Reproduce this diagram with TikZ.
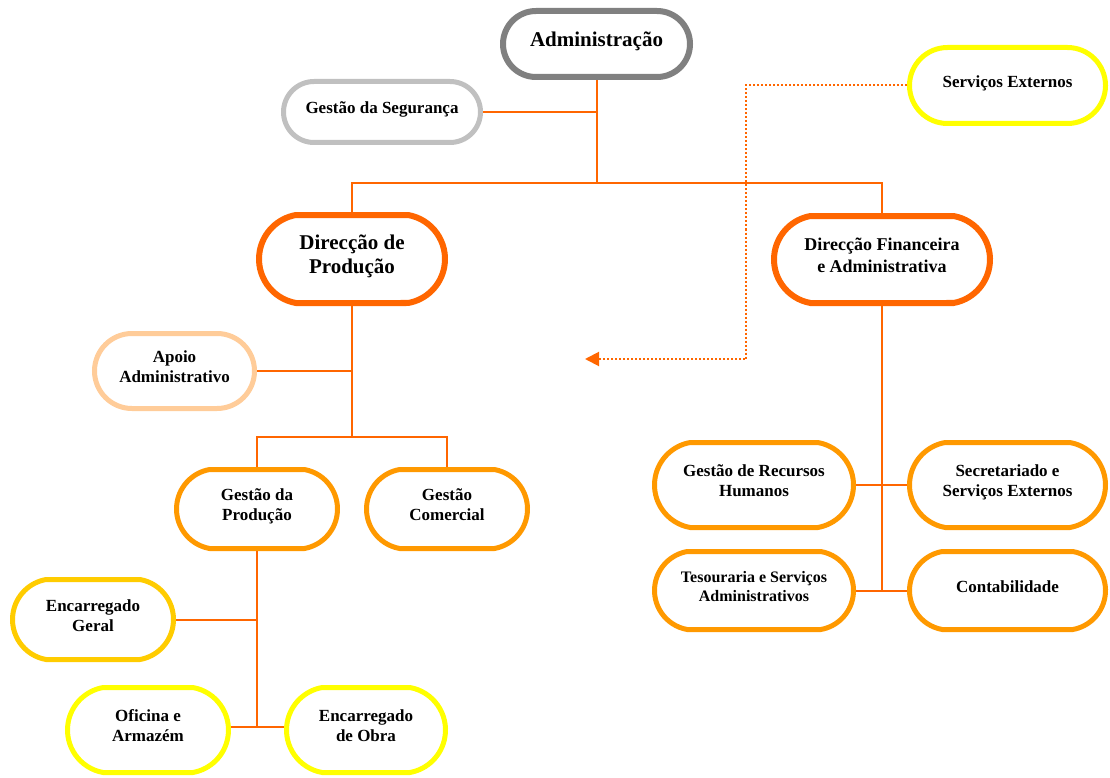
\documentclass[tikz,border=0pt]{standalone}
\usepackage{fontspec}
\setmainfont{Liberation Serif}
\usetikzlibrary{arrows.meta,shapes.misc}
\definecolor{corange}{HTML}{FF6600}
\definecolor{cmid}{HTML}{FF9900}
\definecolor{cgold}{HTML}{FFCC00}
\definecolor{cyel}{HTML}{FFFF00}
\definecolor{cpeach}{HTML}{FFCC99}
\definecolor{cdgray}{HTML}{808080}
\definecolor{clgray}{HTML}{C0C0C0}
\newcommand\lowstrut{\rule[-.47em]{0pt}{.47em}}
\begin{document}
\begin{tikzpicture}[x=1pt,y=-1pt,
  orgbox/.style={rounded rectangle, rounded rectangle arc length=180, draw, fill=white, line width=5pt,
    align=center, inner sep=0pt, font=\bfseries\fontsize{17}{20}\selectfont},
  tallbox/.style={rounded rectangle arc length=160},
  bigbox/.style={orgbox, tallbox, line width=6pt, draw=corange},
  midbox/.style={orgbox, draw=cmid},
  conn/.style={draw=corange, line width=2pt},
  dotconn/.style={draw=corange, line width=2pt, dash pattern=on 2pt off 2pt},
]
\useasboundingbox (0,0) rectangle (1110,778);

% nodes
\node[orgbox, draw=cdgray, line width=6pt, minimum width=187pt, minimum height=66pt,
  font=\bfseries\fontsize{21}{24}\selectfont] (adm) at (596.5,44) {Administração\lowstrut};
\node[orgbox, draw=clgray, minimum width=197pt, minimum height=61pt] (seg) at (382,112) {Gestão da Segurança\lowstrut};
\node[orgbox, draw=cyel, minimum width=196pt, minimum height=76pt] (ext) at (1007.5,85.5) {Serviços Externos\lowstrut};

\node[bigbox, minimum width=186pt, minimum height=88pt,
  font=\bfseries\fontsize{21}{24}\selectfont] (dp) at (352,259) {Direcção de\\Produção\lowstrut};
\node[bigbox, minimum width=216pt, minimum height=87pt,
  font=\bfseries\fontsize{18}{22}\selectfont] (dfa) at (882,259.5) {Direcção Financeira\\e Administrativa\lowstrut};

\node[orgbox, draw=cpeach, minimum width=160pt, minimum height=75pt] (apoio) at (174.5,371) {Apoio\\Administrativo\lowstrut};

\node[midbox, tallbox, minimum width=161pt, minimum height=79pt] (gp) at (257,509) {Gestão da\\Produção\lowstrut};
\node[midbox, tallbox, minimum width=161pt, minimum height=79pt] (gc) at (447,509) {Gestão\\Comercial\lowstrut};

\node[orgbox, tallbox, draw=cgold, minimum width=161pt, minimum height=80pt] (eg) at (93,619.5) {Encarregado\\Geral\lowstrut};
\node[orgbox, tallbox, draw=cyel, minimum width=161pt, minimum height=85pt] (of) at (148,730) {Oficina e\\Armazém\lowstrut};
\node[orgbox, tallbox, draw=cyel, minimum width=159pt, minimum height=85pt] (eo) at (366,730) {Encarregado\\de Obra\lowstrut};

\node[midbox, tallbox, minimum width=199pt, minimum height=85pt] (grh) at (754,485) {Gestão de Recursos\\Humanos\lowstrut};
\node[midbox, tallbox, minimum width=196pt, minimum height=85pt] (sec) at (1007.5,485) {Secretariado e\\Serviços Externos\lowstrut};
\node[midbox, tallbox, minimum width=199pt, minimum height=78pt,
  font=\bfseries\fontsize{16}{19}\selectfont] (tes) at (754,590.5) {Tesouraria e Serviços\\Administrativos\lowstrut};
\node[midbox, tallbox, minimum width=196pt, minimum height=78pt] (cont) at (1007.5,590.5) {Contabilidade\lowstrut};

% junction coordinates
\coordinate (j1) at (596.5,183);
\coordinate (j2) at (352,437);
\coordinate (j3) at (257,727);
\coordinate (d1) at (746,359);
\coordinate (dtip) at (585,359);

% connectors
\draw[conn] (adm.south) -- (j1);
\draw[conn] (seg.east) -- (seg.east -| adm.south);
\draw[conn] (dp.north) |- (j1) -| (dfa.north);

\draw[conn] (dp.south) -- (j2);
\draw[conn] (apoio.east) -- (apoio.east -| dp.south);
\draw[conn] (gp.north) |- (j2) -| (gc.north);

\draw[conn] (gp.south) -- (j3);
\draw[conn] (eg.east) -- (eg.east -| gp.south);
\draw[conn] (of.east |- j3) -- (eo.west |- j3);

\draw[conn] (dfa.south) -- (dfa.south |- cont.west);
\draw[conn] (grh.east) -- (sec.west);
\draw[conn] (tes.east) -- (cont.west);

\draw[dotconn, -{Triangle[length=14pt,width=14pt]}] (ext.west) -| (d1) -- (dtip);
\end{tikzpicture}
\end{document}
